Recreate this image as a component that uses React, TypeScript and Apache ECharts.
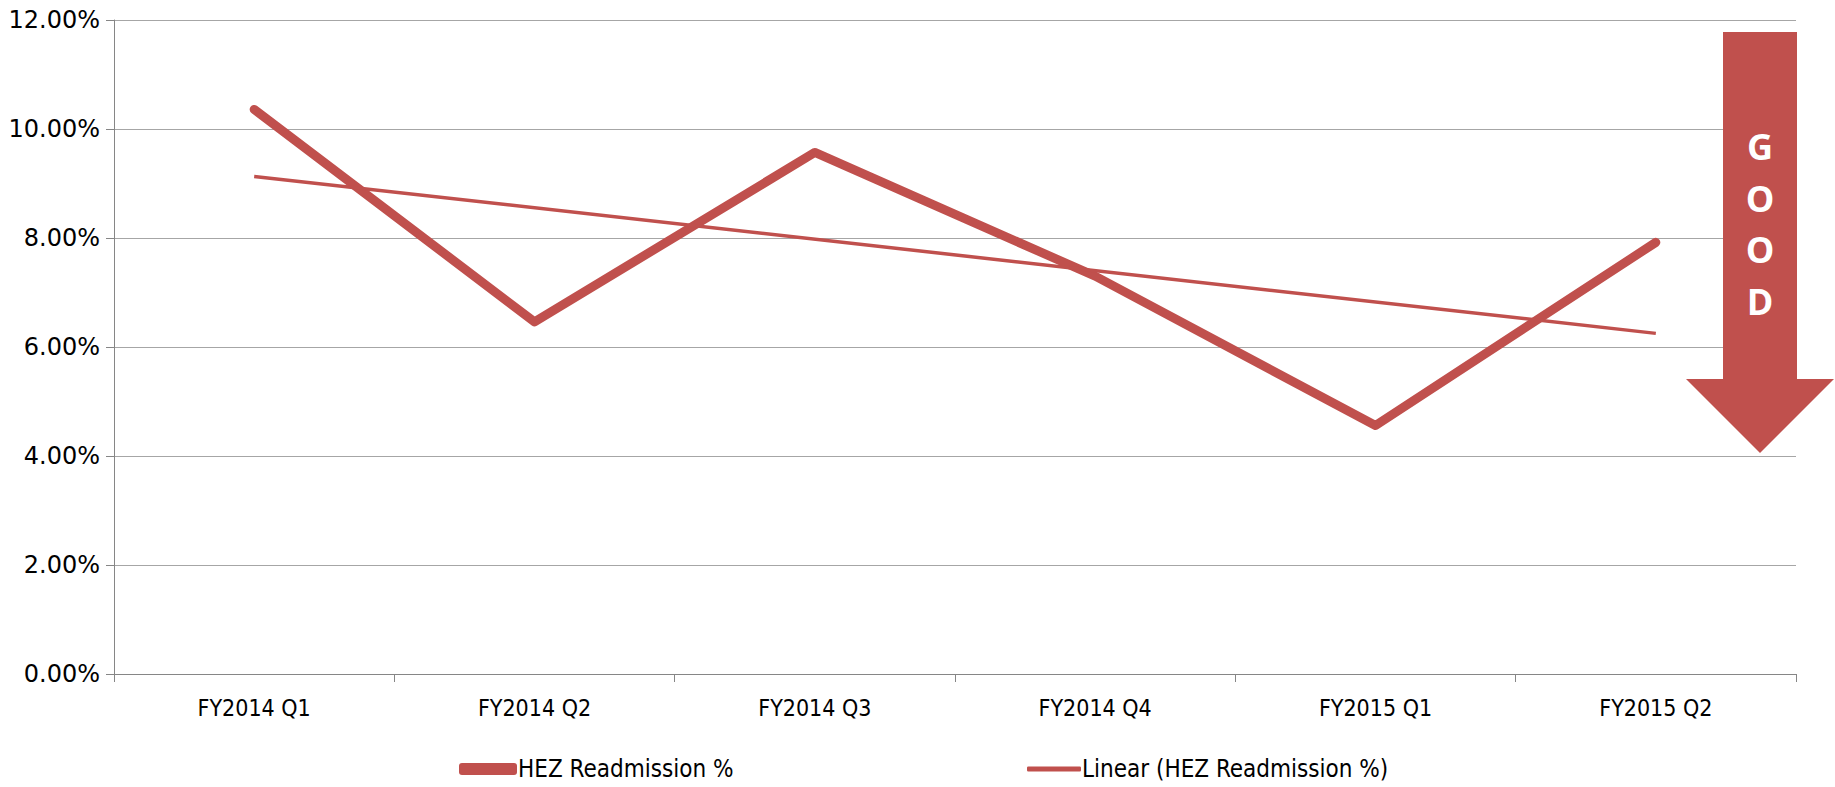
import React, { useEffect, useRef } from "react";
import * as echarts from "echarts";

const categories = ["FY2014 Q1", "FY2014 Q2", "FY2014 Q3", "FY2014 Q4", "FY2015 Q1", "FY2015 Q2"];
const readmission = [10.36, 6.46, 9.57, 7.3, 4.56, 7.92];
const linearTrend = [9.13, null, null, null, null, 6.25];
const yTicks = [0, 2, 4, 6, 8, 10, 12];
const arrowLabel = "G\nO\nO\nD";

const RED = "#C0504D";
const NARROW = "Liberation Sans Narrow, DejaVu Sans Condensed, Lato, sans-serif";

export default function App() {
  const ref = useRef<HTMLDivElement>(null);
  useEffect(() => {
    const chart = echarts.init(ref.current!, null, { renderer: "svg" });
    chart.setOption({
      animation: false,
      grid: { left: 114, right: 39, top: 20, bottom: 113, containLabel: false },
      xAxis: {
        type: "category",
        data: categories,
        boundaryGap: true,
        axisLine: { lineStyle: { color: "#868686", width: 1 } },
        axisTick: { show: true, length: 8, lineStyle: { color: "#868686" } },
        axisLabel: { color: "#000", fontSize: 23, fontFamily: NARROW, margin: 22 },
      },
      yAxis: {
        type: "value",
        min: yTicks[0],
        max: yTicks[yTicks.length - 1],
        interval: 2,
        axisLine: { show: true, lineStyle: { color: "#868686", width: 1 } },
        axisTick: { show: true, length: 8, lineStyle: { color: "#868686" } },
        splitLine: { lineStyle: { color: "#A6A6A6", width: 1 } },
        axisLabel: {
          color: "#000",
          fontSize: 24,
          fontFamily: "DejaVu Sans, Verdana, sans-serif",
          margin: 14,
          formatter: (v: number) => v.toFixed(2) + "%",
        },
      },
      legend: [
        {
          data: [{ name: "HEZ Readmission %", icon: "roundRect" }],
          left: 454,
          bottom: 1,
          itemWidth: 58,
          itemHeight: 12,
          itemGap: 0,
          textStyle: { color: "#000", fontSize: 24, fontFamily: NARROW, padding: [0, 0, 0, -4] },
        },
        {
          data: [{ name: "Linear (HEZ Readmission %)", icon: "roundRect" }],
          left: 1022,
          bottom: 1,
          itemWidth: 54,
          itemHeight: 5,
          textStyle: { color: "#000", fontSize: 24, fontFamily: NARROW, padding: [0, 0, 0, -4] },
        },
      ],
      series: [
        {
          name: "HEZ Readmission %",
          type: "line",
          data: readmission,
          symbol: "none",
          itemStyle: { color: RED },
          lineStyle: { color: RED, width: 9, cap: "round", join: "round" },
        },
        {
          name: "Linear (HEZ Readmission %)",
          type: "line",
          data: linearTrend,
          connectNulls: true,
          symbol: "none",
          itemStyle: { color: RED },
          lineStyle: { color: RED, width: 3.5 },
        },
      ],
      graphic: [
        {
          type: "polygon",
          shape: {
            points: [
              [1723, 32],
              [1797, 32],
              [1797, 379],
              [1834, 379],
              [1760, 453],
              [1686, 379],
              [1723, 379],
            ],
          },
          style: { fill: RED },
          z: 100,
        },
        {
          type: "text",
          x: 1760,
          y: 121,
          style: {
            text: arrowLabel,
            fill: "#fff",
            fontSize: 36,
            fontWeight: "bold",
            fontFamily: "Open Sans, DejaVu Sans, sans-serif",
            align: "center",
            verticalAlign: "top",
            lineHeight: 51.5,
          },
          z: 101,
        },
      ],
    });
    return () => chart.dispose();
  }, []);
  return <div ref={ref} style={{ width: 1835, height: 787, position: "absolute", left: 0, top: 0 }} />;
}
